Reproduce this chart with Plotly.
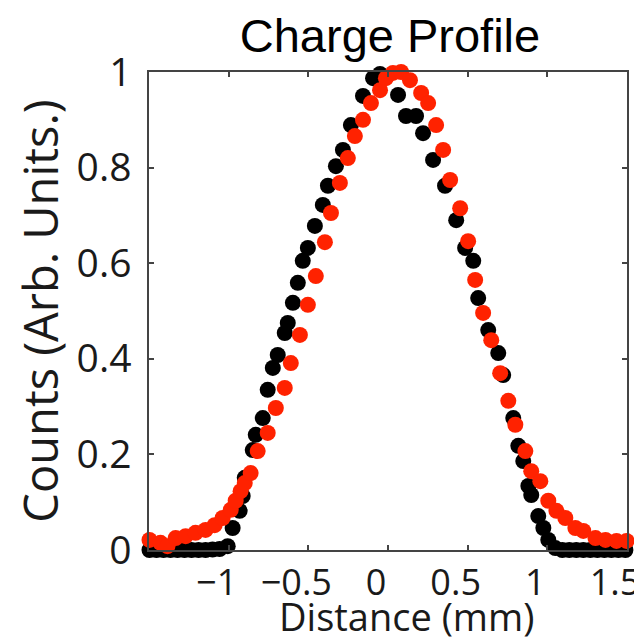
import plotly.graph_objects as go

# Black series (distance mm, counts)
black_x = [-1.497, -1.453, -1.409, -1.365, -1.321, -1.277, -1.233, -1.189, -1.145, -1.101, -1.057,
           -1.006, -0.975, -0.931, -0.912, -0.899, -0.849, -0.830, -0.786, -0.755, -0.723, -0.692,
           -0.648, -0.629, -0.597, -0.566, -0.535, -0.503, -0.459, -0.409, -0.377, -0.327, -0.283,
           -0.233, -0.157, -0.094, -0.050, 0.063, 0.113, 0.176, 0.220, 0.283, 0.358, 0.428, 0.484,
           0.535, 0.566, 0.629, 0.692, 0.723, 0.786, 0.818, 0.849, 0.881, 0.899, 0.943, 0.975,
           1.006, 1.050, 1.094, 1.138, 1.182, 1.226, 1.270, 1.314, 1.358, 1.402, 1.446, 1.490]
black_y = [0.000, 0.000, 0.000, 0.000, 0.000, 0.000, 0.000, 0.000, 0.000, 0.001, 0.002,
           0.008, 0.046, 0.082, 0.113, 0.151, 0.209, 0.241, 0.276, 0.335, 0.381, 0.408,
           0.454, 0.475, 0.517, 0.559, 0.605, 0.632, 0.678, 0.722, 0.762, 0.803, 0.837,
           0.889, 0.950, 0.987, 0.996, 0.952, 0.908, 0.908, 0.872, 0.816, 0.762, 0.690, 0.632,
           0.605, 0.527, 0.460, 0.412, 0.366, 0.276, 0.218, 0.186, 0.134, 0.115, 0.071, 0.046,
           0.021, 0.004, 0.000, 0.000, 0.000, 0.000, 0.000, 0.000, 0.000, 0.000, 0.000, 0.000]

# Red series
red_x = [-1.497, -1.428, -1.384, -1.333, -1.270, -1.208, -1.145, -1.088, -1.038, -0.987, -0.956,
         -0.925, -0.899, -0.862, -0.818, -0.755, -0.704, -0.648, -0.610, -0.553, -0.503, -0.453,
         -0.396, -0.358, -0.302, -0.252, -0.208, -0.157, -0.107, -0.050, -0.013, 0.031, 0.082,
         0.138, 0.208, 0.252, 0.302, 0.346, 0.390, 0.453, 0.503, 0.547, 0.597, 0.648, 0.704,
         0.755, 0.799, 0.862, 0.899, 0.956, 1.006, 1.057, 1.113, 1.176, 1.226, 1.302, 1.365,
         1.434, 1.497]
red_y = [0.021, 0.015, 0.008, 0.025, 0.029, 0.036, 0.042, 0.052, 0.067, 0.084, 0.103,
         0.123, 0.140, 0.161, 0.207, 0.245, 0.297, 0.339, 0.391, 0.450, 0.513, 0.573,
         0.644, 0.705, 0.768, 0.820, 0.866, 0.900, 0.935, 0.962, 0.987, 0.998, 1.000,
         0.983, 0.956, 0.935, 0.889, 0.837, 0.774, 0.715, 0.646, 0.565, 0.496, 0.439, 0.370,
         0.312, 0.262, 0.207, 0.165, 0.144, 0.103, 0.082, 0.067, 0.046, 0.040, 0.025, 0.021,
         0.019, 0.019]

x_tickvals = [-1, -0.5, 0, 0.5, 1, 1.5]
x_ticktext = ["\u22121", "\u22120.5", "0", "0.5", "1", "1.5"]
y_tickvals = [0, 0.2, 0.4, 0.6, 0.8, 1]
y_ticktext = ["0", "0.2", "0.4", "0.6", "0.8", "1"]

fig = go.Figure()
fig.add_trace(go.Scatter(x=black_x, y=black_y, mode="markers",
                         marker=dict(color="#000000", size=16, line=dict(width=0)),
                         cliponaxis=False, showlegend=False))
fig.add_trace(go.Scatter(x=red_x, y=red_y, mode="markers",
                         marker=dict(color="#ff2200", size=16, line=dict(width=0)),
                         cliponaxis=False, showlegend=False))

axis_common = dict(showgrid=False, zeroline=False, showline=True, linecolor="#444444",
                   linewidth=1.5, mirror="ticks", ticks="inside", ticklen=5, tickwidth=1.5,
                   tickcolor="#444444", automargin=False, ticklabeloverflow="allow")

fig.update_layout(
    width=642, height=639,
    margin=dict(l=141, r=23, t=64, b=97),
    paper_bgcolor="white", plot_bgcolor="white",
    title=dict(text="Charge Profile", x=0.595, xanchor="center", y=0.957, yanchor="middle",
               font=dict(family="Liberation Sans, Arial, sans-serif", size=47, color="#000000")),
    xaxis=dict(range=[-1.5, 1.5], tickvals=x_tickvals, ticktext=x_ticktext,
               ticklabelshift=-12,
               tickfont=dict(family="Open Sans, sans-serif", size=36, color="#1a1a1a"),
               **axis_common),
    yaxis=dict(range=[0, 1], tickvals=y_tickvals, ticktext=y_ticktext,
               ticklabelstandoff=8,
               tickfont=dict(family="Open Sans, sans-serif", size=39, color="#1a1a1a"),
               title=dict(text="Counts (Arb. Units.)", standoff=22,
                          font=dict(family="Open Sans, sans-serif", size=47, color="#1a1a1a")),
               **axis_common),
    annotations=[dict(text="Distance (mm)", xref="paper", yref="paper",
                      x=0.538, y=-0.139, xanchor="center", yanchor="middle", showarrow=False,
                      font=dict(family="Open Sans, sans-serif", size=38, color="#1a1a1a"))],
)

fig.write_html("out.html")
